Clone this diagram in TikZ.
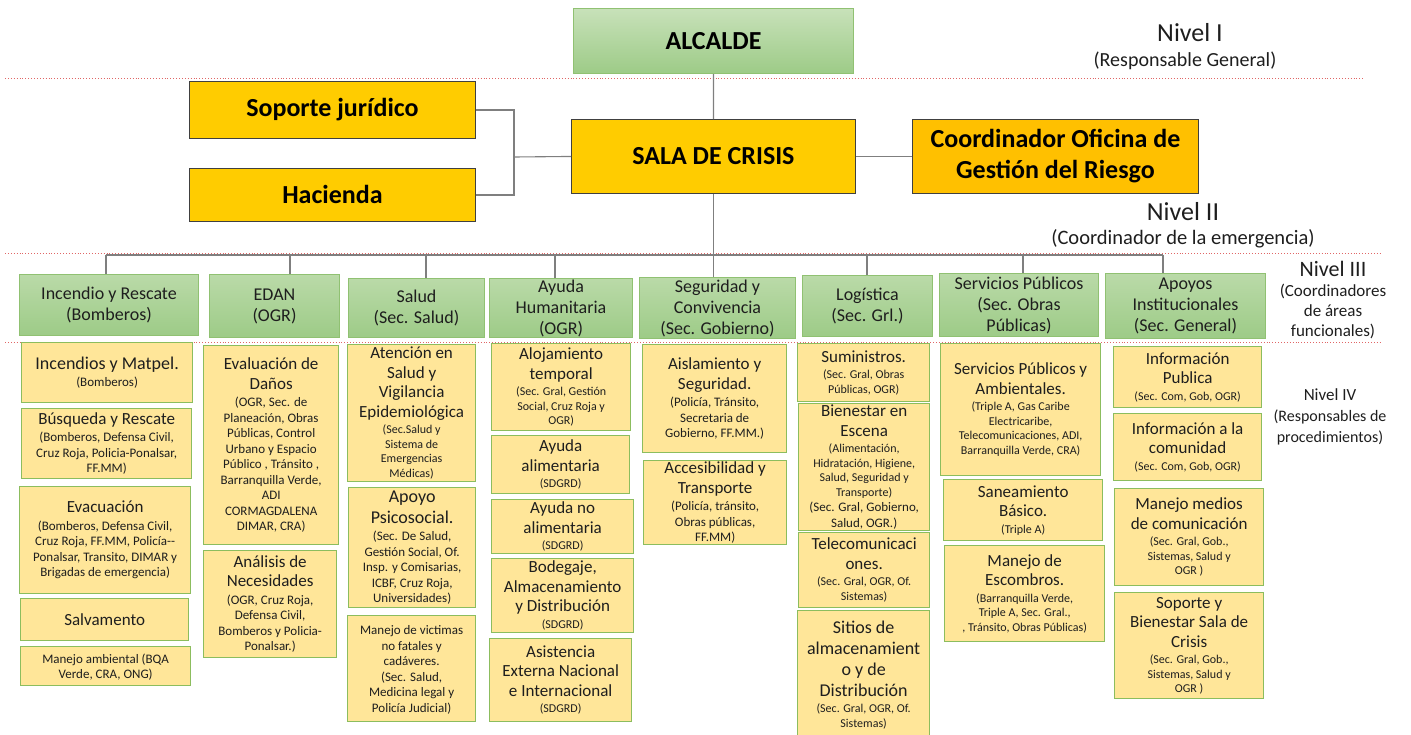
\documentclass[tikz,border=0pt]{standalone}
\usepackage{fontspec}
\setmainfont{Carlito}
\definecolor{amarillo}{HTML}{FFE699}
\definecolor{bordeIV}{HTML}{8CBD5E}
\definecolor{verdeA}{HTML}{BADAA8}
\definecolor{verdeB}{HTML}{9DCB87}
\definecolor{bordeIII}{HTML}{90C172}
\definecolor{oro}{HTML}{FFCC00}
\definecolor{naranja}{HTML}{FFC000}
\definecolor{gris}{HTML}{7F7F7F}
\definecolor{rojo}{HTML}{E06666}
\definecolor{texto}{HTML}{1E1E1E}
\newcommand{\subch}[1]{{\fontsize{13}{15.5}\selectfont\vspace{2pt}#1\par}}
\newcommand{\submi}[1]{{\fontsize{12}{14.5}\selectfont\vspace{2pt}#1\par}}
\newcommand{\grande}[1]{{\fontsize{18}{21}\selectfont #1\par}}

\begin{document}
\begin{tikzpicture}[x=1pt, y=-1pt,
        font=\fontsize{17}{19.5}\selectfont,
        dim/.style 2 args={minimum width=#1pt, minimum height=#2pt},
        sz/.style 2 args={dim={#1}{#2},
            execute at begin node={\begin{minipage}{\dimexpr#1pt-4pt\relax}\centering},
            execute at end node={\end{minipage}}},
        n4/.style={anchor=north west, fill=amarillo, draw=bordeIV, line width=1.3pt,
            inner xsep=0pt, inner ysep=1pt, text=texto},
        n3/.style={anchor=north west, top color=verdeA, bottom color=verdeB, draw=bordeIII,
            line width=1pt, align=center, inner sep=0pt, text=texto,
            font=\fontsize{18}{21}\selectfont},
        mando/.style={anchor=north west, fill=oro, draw=black!75, line width=0.9pt,
            align=center, inner sep=0pt, text=black, font=\bfseries\fontsize{26}{31}\selectfont},
        conn/.style={draw=gris, line width=1.1pt},
        corte/.style={draw=rojo, dotted, line width=0.9pt},
        nivel/.style={align=center, text=texto, inner sep=0pt}
        ]
    \useasboundingbox (0,0) rectangle (1411,734);

    % cortes entre niveles
    \draw[corte] (5,78) -- (1365,78);
    \draw[corte] (5,253) -- (1380,253);
    \draw[corte] (5,342) -- (1380,342);

    % Nivel I y II
    \node[mando, dim={280}{65}, top color=verdeA!80!white, bottom color=verdeB,
          draw=bordeIII, line width=1pt] (alc) at (573,8) {ALCALDE};
    \node[mando, dim={286}{57}] (sop) at (189,81) {Soporte jurídico};
    \node[mando, dim={286}{53}] (hac) at (189,168) {Hacienda};
    \node[mando, dim={284}{74}] (sala) at (571,119) {SALA DE CRISIS};
    \node[mando, dim={286}{74}, fill=naranja] (coord) at (912,119)
        {Coordinador Oficina de\\Gestión del Riesgo};

    \node[nivel, font=\fontsize{26}{30}\selectfont] (nI) at (1190,33) {Nivel I};
    \node[nivel, font=\fontsize{20}{23}\selectfont] (nIa) at (1185,61) {(Responsable General)};
    \node[nivel, font=\fontsize{26}{30}\selectfont] (nII) at (1183,212) {Nivel II};
    \node[nivel, font=\fontsize{20.5}{23}\selectfont] (nIIa) at (1183,239) {(Coordinador de la emergencia)};

    % Nivel III
    \node[n3, dim={179}{61}] (inc) at (19,274) {Incendio y Rescate\\(Bomberos)};
    \node[n3, dim={130}{63}] (edan) at (209,274) {EDAN\\(OGR)};
    \node[n3, dim={136}{59}] (sal) at (348,278) {Salud\\(Sec. Salud)};
    \node[n3, dim={143}{59}] (ayu) at (489,278) {Ayuda\\Humanitaria\\(OGR)};
    \node[n3, dim={156}{61}] (seg) at (639,277) {Seguridad y\\Convivencia\\(Sec. Gobierno)};
    \node[n3, dim={130}{61}] (log) at (802,275) {Logística\\(Sec. Grl.)};
    \node[n3, dim={159}{63}] (ser) at (939,273) {Servicios Públicos\\(Sec. Obras\\Públicas)};
    \node[n3, dim={160}{65}] (apo) at (1105,273) {Apoyos\\Institucionales\\(Sec. General)};

    \node[nivel, font=\fontsize{17}{20}\selectfont] (nIII) at (1333,300)
        {{\fontsize{22}{24}\selectfont Nivel III}\\(Coordinadores\\de áreas\\funcionales)};

    % Nivel IV
    \node[n4, sz={171}{60}] (a1) at (21,342) {\grande{Incendios y Matpel.}\subch{(Bomberos)}};
    \node[n4, sz={170}{70}] (a2) at (21,408) {Búsqueda y Rescate\par
        \subch{(Bomberos, Defensa Civil,\\Cruz Roja, Policia-Ponalsar,\\FF.MM)}};
    \node[n4, sz={171}{107}] (a3) at (19,486) {Evacuación\par
        \subch{(Bomberos, Defensa Civil,\\Cruz Roja, FF.MM, Policía-{}-\\Ponalsar, Transito, DIMAR y\\Brigadas de emergencia)}};
    \node[n4, sz={168}{42}] (a4) at (20,598) {Salvamento\par};
    \node[n4, sz={170}{39}] (a5) at (20,646) {\subch{Manejo ambiental (BQA\\Verde, CRA, ONG)}};

    \node[n4, sz={135}{199}] (b1) at (203,345) {Evaluación de\\Daños\par
        \subch{(OGR, Sec. de\\Planeación, Obras\\Públicas, Control\\Urbano y Espacio\\Público , Tránsito ,\\Barranquilla Verde,\\ADI\\CORMAGDALENA\\DIMAR, CRA)}};
    \node[n4, sz={133}{107}] (b2) at (203,550) {Análisis de\\Necesidades\par
        \subch{(OGR, Cruz Roja,\\Defensa Civil,\\Bomberos y Policia-\\Ponalsar.)}};

    \node[n4, sz={128}{137}] (c1) at (347,344) {Atención en\\Salud y\\Vigilancia\\Epidemiológica\par
        \submi{(Sec.Salud y\\Sistema de\\Emergencias\\Médicas)}};
    \node[n4, sz={127}{120}] (c2) at (348,487) {\grande{Apoyo\\Psicosocial.}
        \subch{(Sec. De Salud,\\Gestión Social, Of.\\Insp. y Comisarias,\\ICBF, Cruz Roja,\\Universidades)}};
    \node[n4, sz={128}{106}] (c3) at (347,615)
        {\subch{Manejo de victimas\\no fatales y\\cadáveres.\\(Sec. Salud,\\Medicina legal y\\Policía Judicial)}};

    \node[n4, sz={139}{87}] (d1) at (491,343) {Alojamiento\\temporal\par
        \submi{(Sec. Gral, Gestión\\Social, Cruz Roja y\\OGR)}};
    \node[n4, sz={138}{58}] (d2) at (491,435) {Ayuda\\alimentaria\par\submi{(SDGRD)}};
    \node[n4, sz={142}{54}] (d3) at (491,499) {Ayuda no\\alimentaria\par\submi{(SDGRD)}};
    \node[n4, sz={142}{74}] (d4) at (491,558) {Bodegaje,\\Almacenamiento\\y Distribución\par\submi{(SDGRD)}};
    \node[n4, sz={142}{83}] (d5) at (489,638) {Asistencia\\Externa Nacional\\e Internacional\par\submi{(SDGRD)}};

    \node[n4, sz={144}{108}] (e1) at (642,344) {Aislamiento y\\Seguridad.\par
        \subch{(Policía, Tránsito,\\Secretaria de\\Gobierno, FF.MM.)}};
    \node[n4, sz={143}{84}] (e2) at (643,460) {Accesibilidad y\\Transporte\par
        \subch{(Policía, tránsito,\\Obras públicas,\\FF.MM)}};

    \node[n4, sz={132}{58}] (f1) at (797,343) {Suministros.\par
        \submi{(Sec. Gral, Obras\\Públicas, OGR)}};
    \node[n4, sz={131}{127}] (f2) at (798,403) {Bienestar en\\Escena\par
        \submi{(Alimentación,\\Hidratación, Higiene,\\Salud, Seguridad y\\Transporte)}%
        {\fontsize{13}{15.5}\selectfont (Sec. Gral, Gobierno,\\Salud, OGR.)\par}};
    \node[n4, sz={131}{75}] (f3) at (798,532) {Telecomunicaci\\ones.\par
        \submi{(Sec. Gral, OGR, Of.\\Sistemas)}};
    \node[n4, sz={132}{128}] (f4) at (797,610) {\grande{Sitios de\\almacenamient\\o y de\\Distribución}
        \submi{(Sec. Gral, OGR, Of.\\Sistemas)}};

    \node[n4, sz={160}{132}] (g1) at (940,343) {Servicios Públicos y\\Ambientales.\par
        \submi{(Triple A, Gas Caribe\\Electricaribe,\\Telecomunicaciones, ADI,\\Barranquilla Verde, CRA)}};
    \node[n4, sz={159}{61}] (g2) at (943,479) {Saneamiento\\Básico.\par\submi{(Triple A)}};
    \node[n4, sz={160}{96}] (g3) at (944,545) {Manejo de\\Escombros.\par
        \submi{(Barranquilla Verde,\\Triple A, Sec. Gral.,\\, Tránsito, Obras Públicas)}};

    \node[n4, sz={148}{61}] (h1) at (1113,346) {Información\\Publica\par\submi{(Sec. Com, Gob, OGR)}};
    \node[n4, sz={148}{67}] (h2) at (1113,413) {Información a la\\comunidad\par\submi{(Sec. Com, Gob, OGR)}};
    \node[n4, sz={149}{97}] (h3) at (1114,488) {Manejo medios\\de comunicación\par
        \submi{(Sec. Gral, Gob.,\\Sistemas, Salud y\\OGR )}};
    \node[n4, sz={149}{106}] (h4) at (1114,592) {Soporte y\\Bienestar Sala de\\Crisis\par
        \submi{(Sec. Gral, Gob.,\\Sistemas, Salud y\\OGR )}};

    \node[nivel, font=\fontsize{16}{21}\selectfont] (nIV) at (1330,417)
        {{\fontsize{17}{21}\selectfont Nivel IV}\\(Responsables de\\procedimientos)};

    % lineas
    \coordinate (brk) at (514,157);
    \coordinate (busI) at (106,255);
    \coordinate (busD) at (1163,255);
    \draw[conn] (alc) -- (sala);
    \draw[conn] (sop.east) -| (brk) |- (hac.east);
    \draw[conn] (brk) -- (sala.west);
    \draw[conn] (sala.east) -- (coord.west);
    \draw[conn] (sala.south) -- (sala.south |- seg.north);
    \draw[conn] (busI) -- (busD);
    \foreach \n/\dx in {inc/106,edan/290,sal/426,ayu/555,log/867,ser/1023,apo/1163}
        \draw[conn] (busI -| \dx,0) -- (\n.north -| \dx,0);

\end{tikzpicture}
\end{document}
